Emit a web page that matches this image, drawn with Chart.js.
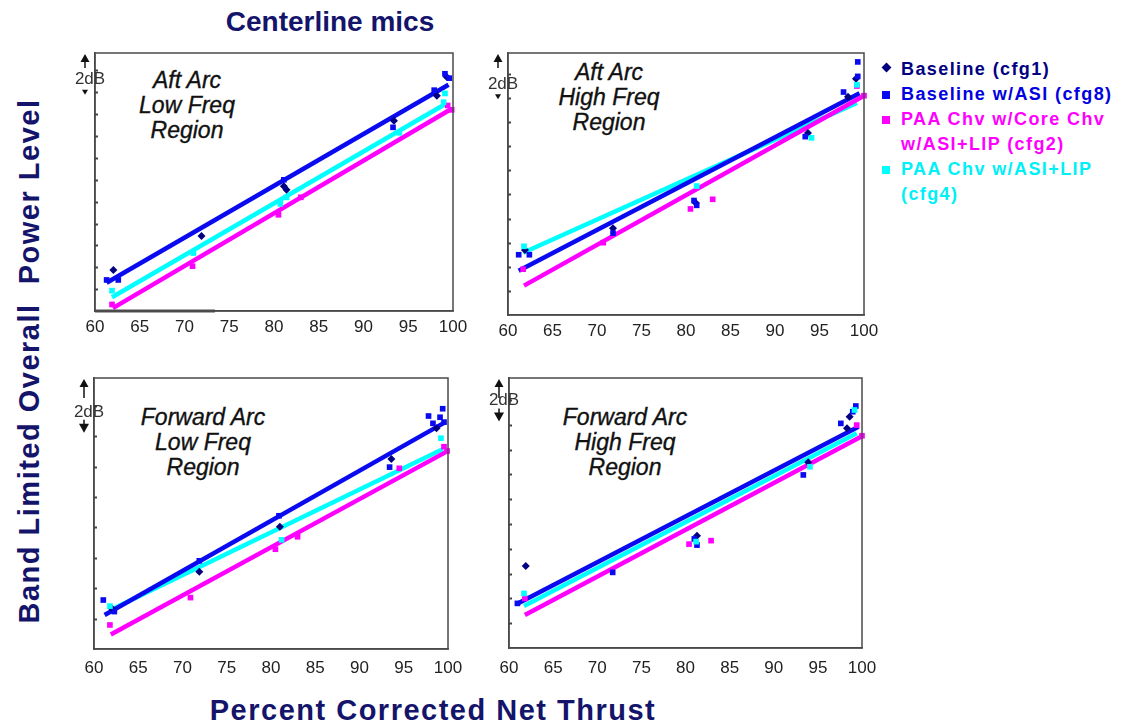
<!DOCTYPE html>
<html>
<head>
<meta charset="utf-8">
<script src="https://cdn.jsdelivr.net/npm/chart.js@4.4.1/dist/chart.umd.min.js"></script>
<style>
  body { margin: 0; background: #fff; width: 1122px; height: 725px; position: relative; overflow: hidden;
         font-family: Arial, "Liberation Sans", sans-serif; }
  canvas { position: absolute; }
  .txt { position: absolute; white-space: nowrap; }
  #mainTitle { left: 330px; top: 22px; transform: translate(-50%, -50%); font: bold 28px Arial, "Liberation Sans", sans-serif; color: #14146b; }
  #xTitle { left: 433px; top: 710px; transform: translate(-50%, -50%); font: bold 29px Arial, "Liberation Sans", sans-serif; letter-spacing: 1.5px; color: #14146b; }
  #yTitle { left: 29px; top: 361px; transform: translate(-50%, -50%) rotate(-90deg); font: bold 29px Arial, "Liberation Sans", sans-serif; letter-spacing: 1.5px; color: #14146b; }
  .ptitle { position: absolute; transform: translateX(-50%); text-align: center; font: italic 23px Arial, "Liberation Sans", sans-serif;
            color: #111; line-height: 25px; white-space: nowrap; -webkit-text-stroke: 0.35px #111; }
  #legend { position: absolute; left: 878px; top: 57px; font: bold 18px Arial, "Liberation Sans", sans-serif; letter-spacing: 1.4px; line-height: 25px; }
  #legend .row { position: relative; padding-left: 23px; white-space: nowrap; }
  #legend .mk { position: absolute; left: 4px; top: 9px; width: 8px; height: 8px; }
  #legend .mk.dia { transform: rotate(45deg); width: 7px; height: 7px; left: 5px; top: 7px; }
</style>
</head>
<body>
<div id="mainTitle" class="txt">Centerline mics</div>
<div id="xTitle" class="txt">Percent Corrected Net Thrust</div>
<div id="yTitle" class="txt">Band Limited Overall&nbsp;&nbsp;Power Level</div>

<div class="ptitle" style="left:187px; top:68px;">Aft Arc<br>Low Freq<br>Region</div>
<div class="ptitle" style="left:609px; top:60px;">Aft Arc<br>High Freq<br>Region</div>
<div class="ptitle" style="left:203px; top:405px;">Forward Arc<br>Low Freq<br>Region</div>
<div class="ptitle" style="left:625px; top:405px;">Forward Arc<br>High Freq<br>Region</div>

<div id="legend"></div>

<canvas id="c1"></canvas>
<canvas id="c2"></canvas>
<canvas id="c3"></canvas>
<canvas id="c4"></canvas>

<script>
// Percent corrected net thrust axis
const xTicks = [60, 65, 70, 75, 80, 85, 90, 95, 100];

// Series names
const seriesNames = ['Baseline (cfg1)', 'Baseline w/ASI (cfg8)', 'PAA Chv w/Core Chv w/ASI+LIP (cfg2)', 'PAA Chv w/ASI+LIP (cfg4)'];
const legendLines = [['Baseline (cfg1)'], ['Baseline w/ASI (cfg8)'], ['PAA Chv w/Core Chv', 'w/ASI+LIP (cfg2)'], ['PAA Chv w/ASI+LIP', '(cfg4)']];

// ---- Aft Arc, Low Freq Region (relative level, dB) ----
const aftLowCfg1 = [[62.05, 1.87], [71.9, 3.43], [81.1, 5.7], [81.4, 5.55], [93.4, 8.7], [98.2, 9.85], [99.3, 10.7]];
const aftLowCfg8 = [[61.3, 1.42], [62.6, 1.42], [81.1, 6.0], [93.3, 8.4], [97.9, 10.1], [99.1, 10.85], [99.6, 10.65]];
const aftLowCfg2 = [[61.9, 0.3], [70.9, 2.05], [80.5, 4.4], [83.0, 5.2], [99.85, 9.2], [99.4, 9.4]];
const aftLowCfg4 = [[61.9, 0.93], [71.0, 2.65], [80.7, 4.9], [81.4, 5.2], [94.0, 8.15], [99.1, 9.95], [98.95, 9.55]];
const aftLowFitBase = [[61.3, 1.29], [99.5, 10.35]];
const aftLowFitCfg2 = [[62.0, 0.13], [99.85, 9.25]];
const aftLowFitCfg4 = [[61.9, 0.63], [99.3, 9.5]];

// ---- Aft Arc, High Freq Region ----
const aftHighCfg1 = [[61.9, 2.7], [71.8, 3.6], [81.1, 4.65], [93.7, 7.55], [98.2, 9.05], [99.1, 9.8]];
const aftHighCfg8 = [[61.2, 2.5], [62.4, 2.5], [71.8, 3.4], [80.9, 4.75], [81.2, 4.55], [93.4, 7.4], [97.7, 9.25], [99.3, 10.5], [99.3, 9.9]];
const aftHighCfg2 = [[61.7, 1.9], [70.7, 3.0], [80.5, 4.4], [83.0, 4.8], [100.0, 9.1], [99.2, 9.5]];
const aftHighCfg4 = [[61.8, 2.85], [81.2, 5.35], [94.1, 7.35], [99.2, 9.55]];
const aftHighFitBase = [[61.2, 1.84], [99.5, 9.2]];
const aftHighFitCfg2 = [[61.8, 1.22], [100.0, 9.1]];
const aftHighFitCfg4 = [[61.7, 2.58], [99.2, 8.8]];

// ---- Forward Arc, Low Freq Region ----
const fwdLowCfg1 = [[62.0, 1.34], [71.9, 2.54], [81.0, 4.02], [93.6, 6.25], [98.7, 7.26]];
const fwdLowCfg8 = [[61.05, 1.61], [62.3, 1.23], [71.9, 2.9], [80.9, 4.38], [93.4, 5.98], [97.8, 7.66], [98.3, 7.42], [99.1, 7.62], [99.4, 7.9], [99.55, 7.46]];
const fwdLowCfg2 = [[61.8, 0.79], [70.9, 1.69], [80.5, 3.28], [83.0, 3.69], [94.5, 5.94], [99.55, 6.65], [99.9, 6.51]];
const fwdLowCfg4 = [[61.8, 1.41], [81.2, 3.59], [99.2, 6.93]];
const fwdLowFitBase = [[61.2, 1.12], [99.7, 7.46]];
const fwdLowFitCfg2 = [[61.9, 0.48], [99.85, 6.49]];
const fwdLowFitCfg4 = [[61.7, 1.26], [99.4, 6.57]];

// ---- Forward Arc, High Freq Region ----
const fwdHighCfg1 = [[61.9, 3.31], [81.3, 4.53], [93.9, 7.49], [98.6, 9.33], [98.3, 8.86]];
const fwdHighCfg8 = [[60.95, 1.8], [71.75, 3.05], [81.0, 4.4], [81.3, 4.15], [93.35, 6.98], [97.6, 9.06], [98.95, 9.53], [99.3, 9.76]];
const fwdHighCfg2 = [[61.8, 2.0], [80.4, 4.19], [82.9, 4.33], [99.4, 8.99], [100.0, 8.56]];
const fwdHighCfg4 = [[61.7, 2.2], [81.2, 4.29], [94.1, 7.31], [99.15, 9.6]];
const fwdHighFitBase = [[61.05, 1.8], [99.6, 8.92]];
const fwdHighFitCfg2 = [[61.8, 1.33], [100.1, 8.56]];
const fwdHighFitCfg4 = [[61.7, 1.69], [99.4, 8.66]];

// Short dark segment along the lower axis of the first panel
const aftLowAxisStub = [[60, 0], [73.4, 0]];

// Upper end of each relative-level axis (dB)
const yMaxByPanel = [11.8, 10.87, 8.91, 10.89];

const COLORS = { cfg1: '#000080', cfg8: '#0a0af0', cfg2: '#ff00ff', cfg4: '#00ffff' };
const toXY = arr => arr.map(p => ({ x: p[0], y: p[1] }));

// Legend (HTML text)
(function buildLegend() {
  const lg = document.getElementById('legend');
  const cols = [COLORS.cfg1, '#0000e0', '#ff00ff', '#00f0f8'];
  const mkCols = [COLORS.cfg1, COLORS.cfg8, COLORS.cfg2, COLORS.cfg4];
  legendLines.forEach((lines, i) => {
    const row = document.createElement('div');
    row.className = 'row';
    row.style.color = cols[i];
    const mk = document.createElement('span');
    mk.className = 'mk' + (i === 0 ? ' dia' : '');
    mk.style.background = mkCols[i];
    row.appendChild(mk);
    row.appendChild(document.createTextNode(lines[0]));
    lines.slice(1).forEach(t => { row.appendChild(document.createElement('br')); row.appendChild(document.createTextNode(t)); });
    lg.appendChild(row);
  });
})();

// Frame, inward y ticks and "2dB" scale marker
const panelDecor = {
  id: 'panelDecor',
  afterDraw(chart, args, opts) {
    const { ctx, chartArea: a } = chart;
    const ys = chart.scales.y;
    ctx.save();
    // frame
    ctx.strokeStyle = '#4a4a4a';
    ctx.lineWidth = 1.5;
    ctx.strokeRect(a.left, a.top, a.right - a.left, a.bottom - a.top);
    // inward tick marks every dB
    ctx.lineWidth = 2;
    ctx.strokeStyle = '#444';
    for (let v = 1; v < ys.max; v++) {
      const py = Math.round(ys.getPixelForValue(v)) + 0.5;
      ctx.beginPath(); ctx.moveTo(a.left, py); ctx.lineTo(a.left + 3, py); ctx.stroke();
    }
    // 2 dB marker
    const xA = a.left - 10;
    const yTop = a.top;
    const yLow = ys.getPixelForValue(ys.max - 2);
    const big = opts.big;
    ctx.fillStyle = '#111';
    ctx.strokeStyle = '#111';
    ctx.lineWidth = 1.5;
    // up arrow
    ctx.beginPath(); ctx.moveTo(xA, yTop + 1); ctx.lineTo(xA - 4.5, yTop + 9); ctx.lineTo(xA + 4.5, yTop + 9); ctx.closePath(); ctx.fill();
    ctx.beginPath(); ctx.moveTo(xA, yTop + 8); ctx.lineTo(xA, yTop + (big ? 20 : 15)); ctx.stroke();
    // down arrow
    if (big) {
      ctx.beginPath(); ctx.moveTo(xA, yLow - 6); ctx.lineTo(xA - 5, yLow - 15); ctx.lineTo(xA + 5, yLow - 15); ctx.closePath(); ctx.fill();
      ctx.beginPath(); ctx.moveTo(xA, yLow - 14); ctx.lineTo(xA, yLow - 19); ctx.stroke();
    } else {
      ctx.beginPath(); ctx.moveTo(xA, yLow - 2); ctx.lineTo(xA - 3, yLow - 7); ctx.lineTo(xA + 3, yLow - 7); ctx.closePath(); ctx.fill();
    }
    // label
    ctx.fillStyle = '#333';
    ctx.font = '17px Arial, "Liberation Sans", sans-serif';
    ctx.textAlign = 'center';
    ctx.textBaseline = 'middle';
    ctx.fillText('2dB', a.left - 5, big ? yLow - 27 : yLow - 17);
    ctx.restore();
  }
};

function lineDs(label, data, color, width) {
  return { label, data: toXY(data), showLine: true, borderColor: color, backgroundColor: color,
           borderWidth: width || 4.5, pointRadius: 0, clip: false, order: 2 };
}
function pointDs(label, data, color, style, r) {
  return { label, data: toXY(data), showLine: false, pointStyle: style, pointRadius: r,
           backgroundColor: color, borderColor: color, borderWidth: 0, clip: false, order: 1 };
}

function makePanel(id, box, yMax, series, big, labelPad, extra) {
  const padL = 60, padT = 20, padR = 25, axH = 34;
  const w = (box.R - box.L) + padL + padR;
  const h = (box.B - box.T) + padT + axH;
  const cv = document.getElementById(id);
  cv.width = w; cv.height = h;
  cv.style.left = (box.L - padL) + 'px';
  cv.style.top = (box.T - padT) + 'px';
  cv.style.width = w + 'px'; cv.style.height = h + 'px';

  const datasets = [];
  if (extra) datasets.push(lineDs('axis stub', extra, '#505050', 3));
  datasets.push(lineDs(seriesNames[2] + ' fit', series.fit2, COLORS.cfg2));
  datasets.push(lineDs(seriesNames[1] + ' fit', series.fitB, COLORS.cfg8));
  datasets.push(lineDs(seriesNames[3] + ' fit', series.fit4, COLORS.cfg4));
  datasets.push(pointDs(seriesNames[3], series.c4, COLORS.cfg4, 'rect', 4));
  datasets.push(pointDs(seriesNames[2], series.c2, COLORS.cfg2, 'rect', 4));
  datasets.push(pointDs(seriesNames[1], series.c8, COLORS.cfg8, 'rect', 4));
  datasets.push(pointDs(seriesNames[0], series.c1, COLORS.cfg1, 'rectRot', 4));

  return new Chart(cv, {
    type: 'scatter',
    data: { datasets },
    options: {
      responsive: false,
      animation: false,
      devicePixelRatio: 1,
      layout: { padding: { left: 0, top: padT, right: padR, bottom: 0 } },
      plugins: { legend: { display: false }, tooltip: { enabled: false }, panelDecor: { big } },
      scales: {
        x: {
          type: 'linear', min: 60, max: 100,
          afterBuildTicks: s => { s.ticks = xTicks.map(v => ({ value: v })); },
          afterFit: s => { s.height = axH; },
          grid: { display: false, drawTicks: false },
          border: { display: true, color: '#4a4a4a', width: 1.5 },
          ticks: { padding: labelPad, autoSkip: false, maxRotation: 0, color: '#222',
                   font: { family: 'Arial, "Liberation Sans", sans-serif', size: 17 } }
        },
        y: {
          type: 'linear', min: 0, max: yMax,
          afterFit: s => { s.width = padL; },
          grid: { display: false, drawTicks: false },
          border: { display: true, color: '#4a4a4a', width: 1.5 },
          ticks: { display: false, stepSize: 1 }
        }
      }
    },
    plugins: [panelDecor]
  });
}

makePanel('c1', { L: 95, R: 453, T: 53, B: 311 }, yMaxByPanel[0],
  { c1: aftLowCfg1, c8: aftLowCfg8, c2: aftLowCfg2, c4: aftLowCfg4, fitB: aftLowFitBase, fit2: aftLowFitCfg2, fit4: aftLowFitCfg4 }, false, 6, aftLowAxisStub);
makePanel('c2', { L: 508, R: 864, T: 53, B: 315 }, yMaxByPanel[1],
  { c1: aftHighCfg1, c8: aftHighCfg8, c2: aftHighCfg2, c4: aftHighCfg4, fitB: aftHighFitBase, fit2: aftHighFitCfg2, fit4: aftHighFitCfg4 }, false, 6, null);
makePanel('c3', { L: 94, R: 448, T: 378, B: 649 }, yMaxByPanel[2],
  { c1: fwdLowCfg1, c8: fwdLowCfg8, c2: fwdLowCfg2, c4: fwdLowCfg4, fitB: fwdLowFitBase, fit2: fwdLowFitCfg2, fit4: fwdLowFitCfg4 }, true, 9, null);
makePanel('c4', { L: 509, R: 862, T: 378, B: 648 }, yMaxByPanel[3],
  { c1: fwdHighCfg1, c8: fwdHighCfg8, c2: fwdHighCfg2, c4: fwdHighCfg4, fitB: fwdHighFitBase, fit2: fwdHighFitCfg2, fit4: fwdHighFitCfg4 }, true, 10, null);
</script>
</body>
</html>
